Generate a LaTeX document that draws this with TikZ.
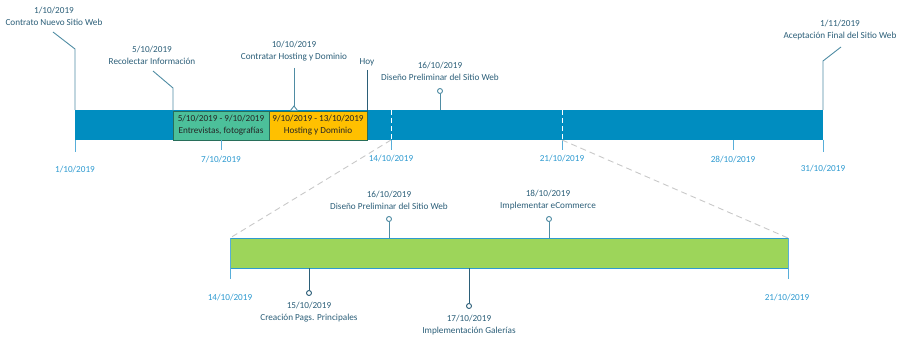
\documentclass[tikz,border=0pt]{standalone}
\usepackage{fontspec}
\setmainfont{Carlito}
\definecolor{barblue}{RGB}{0,141,192}
\definecolor{txtdark}{RGB}{43,94,120}
\definecolor{datecol}{RGB}{46,154,208}
\definecolor{mkline}{RGB}{79,140,163}
\definecolor{greenbar}{RGB}{157,213,90}
\definecolor{greenbox}{RGB}{76,192,154}
\definecolor{boxedge}{RGB}{40,110,90}
\definecolor{yellowbox}{RGB}{255,192,0}
\definecolor{dashgrey}{RGB}{200,200,200}
\tikzset{
  lbl/.style={text=txtdark, align=center, inner sep=0pt, font=\fontsize{9.2}{12}\selectfont},
  datelbl/.style={text=datecol, inner sep=0pt, font=\fontsize{9.2}{12}\selectfont},
  boxlbl/.style={text=black!85, align=center, inner sep=0pt, font=\fontsize{9.2}{12}\selectfont},
  mk/.style={draw=mkline, line width=0.9pt},
  tick/.style={draw=datecol!80, line width=0.9pt},
  pin/.style={circle, draw=mkline, fill=white, line width=0.9pt, inner sep=0pt, minimum size=5pt},
  zoomline/.style={draw=dashgrey, dash pattern=on 6pt off 4pt, line width=0.9pt},
}
\begin{document}
\begin{tikzpicture}[x=1pt,y=-1pt]
\useasboundingbox (0,0) rectangle (904,339);
% main bar
\fill[barblue] (75,110) rectangle (823,140);
\node[draw=boxedge, fill=greenbox, line width=0.6pt, minimum width=96pt, minimum height=29pt, inner sep=0pt, anchor=north west] (gbox) at (173,111) {};
\node[draw=boxedge, fill=yellowbox, line width=0.6pt, minimum width=98pt, minimum height=29pt, inner sep=0pt, anchor=north west] (ybox) at (269,111) {};
\node[boxlbl] (gtxt) at (221,125) {5/10/2019 - 9/10/2019\\Entrevistas, fotografías};
\node[boxlbl] (ytxt) at (318,125) {9/10/2019 - 13/10/2019\\Hosting y Dominio};
% dashed white week markers
\coordinate (w14t) at (391,110); \coordinate (w14b) at (391,140); \coordinate (w14e) at (391,150);
\coordinate (w21t) at (562,110); \coordinate (w21b) at (562,140); \coordinate (w21e) at (562,150);
\draw[white, line width=0.9pt, dash pattern=on 5pt off 3pt] (w14t) -- (w14b);
\draw[white, line width=0.9pt, dash pattern=on 5pt off 3pt] (w21t) -- (w21b);
% ticks below main bar
\coordinate (t1a) at (75,140); \coordinate (t1b) at (75,152);
\coordinate (t7a) at (221,140); \coordinate (t7b) at (221,150);
\coordinate (t28a) at (733,140); \coordinate (t28b) at (733,150);
\coordinate (t31a) at (823,140); \coordinate (t31b) at (823,152);
\draw[tick] (t1a) -- (t1b);
\draw[tick] (t7a) -- (t7b);
\draw[tick] (w14b) -- (w14e);
\draw[tick] (w21b) -- (w21e);
\draw[tick] (t28a) -- (t28b);
\draw[tick] (t31a) -- (t31b);
\node[datelbl] (d1) at (75,170) {1/10/2019};
\node[datelbl] (d7) at (221,160) {7/10/2019};
\node[datelbl] (d14) at (391,159) {14/10/2019};
\node[datelbl] (d21) at (562,159) {21/10/2019};
\node[datelbl] (d28) at (733,160) {28/10/2019};
\node[datelbl] (d31) at (823,169) {31/10/2019};
% top markers
\node[lbl] (m1) at (54,16) {1/10/2019\\Contrato Nuevo Sitio Web};
\coordinate (m1a) at (53,32); \coordinate (m1b) at (75,49); \coordinate (m1c) at (75,110);
\draw[mk] (m1a) -- (m1b) -- (m1c);
\node[lbl] (m5) at (152,55) {5/10/2019\\Recolectar Información};
\coordinate (m5a) at (153,71); \coordinate (m5b) at (173,88); \coordinate (m5c) at (173,111);
\draw[mk] (m5a) -- (m5b) -- (m5c);
\node[lbl] (m10) at (294,51) {10/10/2019\\Contratar Hosting y Dominio};
\coordinate (m10a) at (294,68); \coordinate (m10b) at (294,106);
\coordinate (m10l) at (290.5,110.5); \coordinate (m10r) at (297.5,110.5);
\draw[mk] (m10a) -- (m10b);
\draw[mk, fill=white, line join=miter] (m10l) -- (m10b) -- (m10r);
\node[lbl] (hoy) at (367,62) {Hoy};
\coordinate (hoya) at (367,70); \coordinate (hoyb) at (367,111);
\draw[draw=txtdark, line width=0.9pt] (hoya) -- (hoyb);
\node[lbl] (m16) at (440,71) {16/10/2019\\Diseño Preliminar del Sitio Web};
\node[pin] (p16) at (440,91) {};
\coordinate (p16b) at (440,110);
\draw[mk] (p16) -- (p16b);
\node[lbl] (m31) at (840,30) {1/11/2019\\Aceptación Final del Sitio Web};
\coordinate (m31a) at (841,47); \coordinate (m31b) at (823,61); \coordinate (m31c) at (823,110);
\draw[mk] (m31a) -- (m31b) -- (m31c);
% zoom lines
\coordinate (zl) at (230,238); \coordinate (zr) at (788,238);
\draw[zoomline] (w14b) -- (zl);
\draw[zoomline] (w21b) -- (zr);
% green detail bar
\fill[greenbar] (230,238) rectangle (788,268);
\coordinate (gtl) at (230,238); \coordinate (gtr) at (788,238);
\coordinate (gbl) at (230,268); \coordinate (gbr) at (788,268);
\coordinate (gle) at (230,279); \coordinate (gre) at (788,279);
\draw[datecol, line width=0.9pt] (gtl) -- (gtr);
\draw[datecol, line width=0.9pt] (gbl) -- (gbr);
\draw[tick] (gtl) -- (gle);
\draw[tick] (gtr) -- (gre);
\node[datelbl] (g14) at (230,297) {14/10/2019};
\node[datelbl] (g21) at (787,297) {21/10/2019};
% detail markers
\node[lbl] (e16) at (389,200) {16/10/2019\\Diseño Preliminar del Sitio Web};
\node[pin] (q16) at (389,219) {};
\coordinate (q16b) at (389,238);
\draw[mk] (q16) -- (q16b);
\node[lbl] (e18) at (548,200) {18/10/2019\\Implementar eCommerce};
\node[pin] (q18) at (549,219) {};
\coordinate (q18b) at (549,238);
\draw[mk] (q18) -- (q18b);
\node[pin, draw=txtdark] (q15) at (309,293) {};
\coordinate (q15a) at (309,268);
\draw[draw=txtdark, line width=0.9pt] (q15a) -- (q15);
\node[lbl] (e15) at (309,312) {15/10/2019\\Creación Pags. Principales};
\node[pin, draw=txtdark] (q17) at (469,306) {};
\coordinate (q17a) at (469,268);
\draw[draw=txtdark, line width=0.9pt] (q17a) -- (q17);
\node[lbl] (e17) at (469,325) {17/10/2019\\Implementación Galerías};
\end{tikzpicture}
\end{document}
